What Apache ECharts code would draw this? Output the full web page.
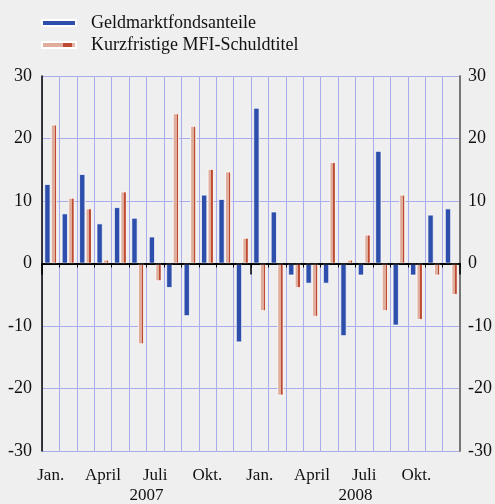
<!DOCTYPE html>
<html>
<head>
<meta charset="utf-8">
<script src="https://cdn.jsdelivr.net/npm/echarts@6/dist/echarts.min.js"></script>
<style>
  html, body { margin: 0; padding: 0; background: #efefef; }
  #chart { width: 495px; height: 504px; }
</style>
</head>
<body>
<div id="chart"></div>
<script>
// Monatswerte Jan. 2007 bis Dez. 2008
var months = ['Jan.', 'Feb.', 'März', 'April', 'Mai', 'Juni', 'Juli', 'Aug.', 'Sep.', 'Okt.', 'Nov.', 'Dez.',
              'Jan.', 'Feb.', 'März', 'April', 'Mai', 'Juni', 'Juli', 'Aug.', 'Sep.', 'Okt.', 'Nov.', 'Dez.'];
var years = ['2007', '2008'];
var shownLabels = ['Jan.', 'April', 'Juli', 'Okt.'];
var geldmarkt = [12.7, 8.0, 14.3, 6.4, 9.0, 7.3, 4.3, -3.9, -8.4, 11.0, 10.3, -12.6,
                 24.9, 8.3, -1.9, -3.2, -3.2, -11.6, -1.9, 18.0, -9.9, -1.9, 7.8, 8.8];
var mfiSchuld = [22.2, 10.5, 8.8, 0.6, 11.5, -12.9, -2.8, 24.0, 22.0, 15.1, 14.7, 4.1,
                 -7.6, -21.1, -3.9, -8.5, 16.2, 0.6, 4.6, -7.6, 11.0, -9.0, -1.9, -5.0];
var yTicks = { min: -30, max: 30, interval: 10 };

var serif = 'Liberation Serif';
var chart = echarts.init(document.getElementById('chart'));

// gestreifte Balken: hell mit schmalem roten Streifen
var stripe = new echarts.graphic.LinearGradient(0, 0, 1, 0, [
  { offset: 0, color: '#dfad9c' },
  { offset: 0.6, color: '#dfad9c' },
  { offset: 0.6, color: '#bf4a33' },
  { offset: 0.85, color: '#bf4a33' },
  { offset: 0.85, color: '#e4b6a6' },
  { offset: 1, color: '#e4b6a6' }
]);

chart.setOption({
  backgroundColor: '#efefef',
  animation: false,
  legend: {
    orient: 'vertical',
    left: 36,
    top: 9,
    itemWidth: 34,
    itemHeight: 6,
    itemGap: 4,
    icon: 'rect',
    textStyle: { fontFamily: serif, fontSize: 18, color: '#111', padding: [0, 0, 0, 10] },
    data: ['Geldmarktfondsanteile', 'Kurzfristige MFI-Schuldtitel']
  },
  grid: { left: 42, right: 34, top: 76, bottom: 49 },
  xAxis: [{
    type: 'category',
    data: months,
    position: 'bottom',
    axisLine: { lineStyle: { color: '#000', width: 1.5 } },
    axisTick: { show: true, interval: 0, length: 4, lineStyle: { color: '#000' } },
    axisLabel: {
      interval: 0,
      margin: 16,
      fontFamily: serif, fontSize: 17, color: '#111',
      formatter: function (v) { return shownLabels.indexOf(v) >= 0 ? v : ''; }
    },
    splitLine: { show: true, interval: 0, lineStyle: { color: '#a9acea', width: 1 } }
  }, {
    type: 'category',
    data: years,
    position: 'bottom',
    axisLine: { show: true, lineStyle: { color: '#000', width: 1.5 } },
    axisTick: { show: true, length: 11, lineStyle: { color: '#000', width: 1.5 } },
    axisLabel: { margin: 36, fontFamily: serif, fontSize: 17, color: '#111' },
    splitLine: { show: false }
  }],
  yAxis: [{
    type: 'value',
    min: yTicks.min, max: yTicks.max, interval: yTicks.interval,
    position: 'left',
    axisLine: { show: true, onZero: false, lineStyle: { color: '#000', width: 1.5 } },
    axisTick: { show: false },
    axisLabel: { margin: 10, fontFamily: serif, fontSize: 18, color: '#111' },
    splitLine: { show: true, lineStyle: { color: '#a9acea', width: 1 } }
  }, {
    type: 'value',
    min: yTicks.min, max: yTicks.max, interval: yTicks.interval,
    position: 'right',
    axisLine: { show: true, onZero: false, lineStyle: { color: '#777', width: 2 } },
    axisTick: { show: false },
    axisLabel: { margin: 8, fontFamily: serif, fontSize: 18, color: '#111' },
    splitLine: { show: false }
  }],
  series: [{
    name: 'Geldmarktfondsanteile',
    type: 'bar',
    data: geldmarkt,
    barWidth: 6,
    barGap: '10%',
    itemStyle: { color: '#2d4fab', borderColor: '#fff', borderWidth: 0.7 },
    markLine: {
      silent: true,
      symbol: 'none',
      label: { show: false },
      lineStyle: { color: '#000', width: 1.5, type: 'solid' },
      data: [{ yAxis: 0 }]
    }
  }, {
    name: 'Kurzfristige MFI-Schuldtitel',
    type: 'bar',
    data: mfiSchuld,
    barWidth: 6,
    itemStyle: { color: stripe, borderColor: '#fff', borderWidth: 0.7 }
  }]
});
</script>
</body>
</html>
